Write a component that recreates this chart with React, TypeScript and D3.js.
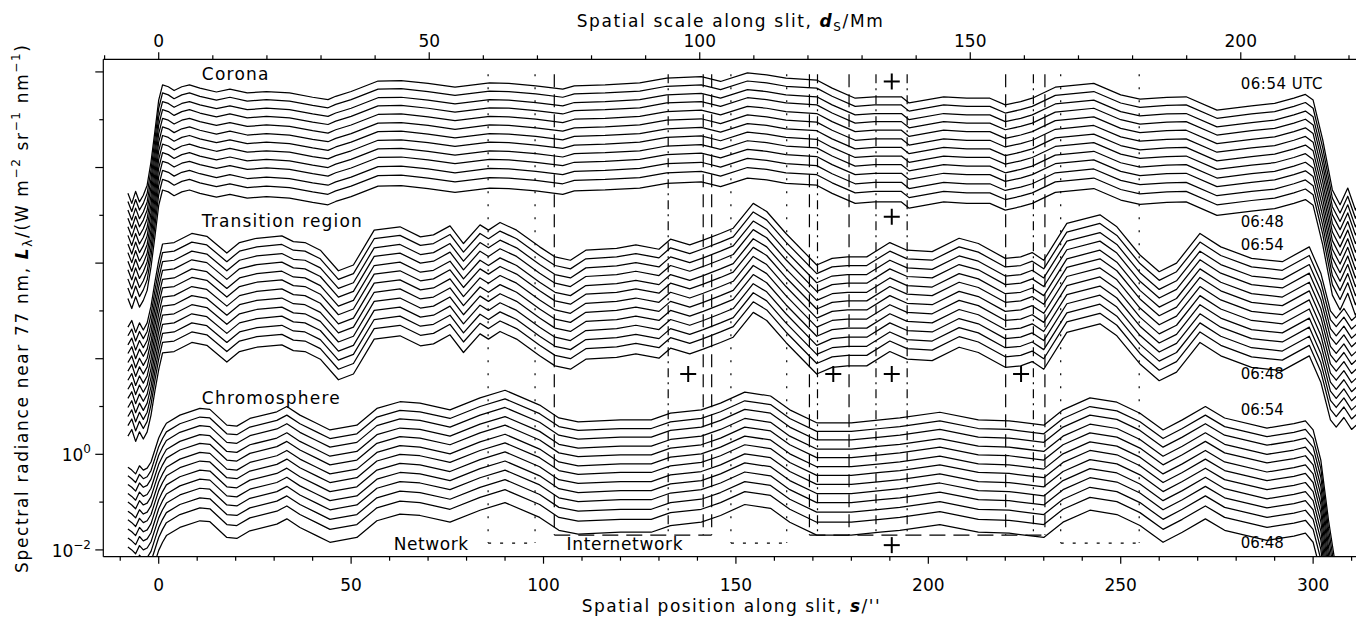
import React from 'react';
import * as d3 from 'd3';

// ---------- data (top = 06:54 UTC line of each group; log10 of spectral radiance) ----------
const coronaS = [-8,-7,-6,-5,-4,-3,-2,-1,0,1,2.5,4,6,8,10.7,15,18.5,23,28,34,40,44,46,50,57,63,70,77,86,91,98,105,108,116,125,132,141,146,153,158,163,171,175,181,186,193,195,204,210,216,220,224,227,233,243,250,255,262,267,275,284,290,295,298,300,302.5,305,307,309,311,313,315];
const coronaLog = [5.46,5.25,5.5,5.28,5.42,5.63,6.12,6.75,7.41,7.73,7.69,7.61,7.69,7.73,7.66,7.58,7.64,7.56,7.59,7.56,7.47,7.42,7.49,7.59,7.81,7.82,7.76,7.68,7.77,7.76,7.71,7.64,7.71,7.73,7.77,7.87,7.9,7.8,7.98,7.94,7.87,7.83,7.66,7.45,7.48,7.48,7.35,7.48,7.45,7.45,7.31,7.38,7.45,7.68,7.76,7.52,7.43,7.47,7.48,7.2,7.29,7.34,7.45,7.53,7.41,6.58,5.53,5.22,5.57,5.11,5.43,5.3];

const trS = [-8,-7,-6,-5,-4,-3,-2,-1,0,1,4,8.6,12.5,17.7,21,25.5,32,35,38,42,46.7,50.6,56,62.7,68,71.4,75.7,79.2,83.5,85.7,88.7,93,99,103,107,111,119,124,130,133,138,141.5,146,149.3,154.5,158,163,171,175,179,184,190,194.5,201,208,213,220,224,227,230,236,244.6,249,255,260,264.5,270.6,276,284,292,299,302,304.5,306,308,310,312,314];
const trLog = [2.66,2.8,2.55,2.75,2.6,2.75,3.1,3.6,4.05,4.4,4.43,4.62,4.56,4.21,4.43,4.52,4.57,4.45,4.43,4.27,3.84,3.96,4.69,4.76,4.55,4.59,4.78,4.41,4.8,4.69,4.85,4.69,4.34,4.13,4.06,4.27,4.31,4.38,4.29,4.5,4.38,4.48,4.62,4.73,5.25,5.08,4.62,3.96,4.1,4.13,4.13,4.43,4.27,4.24,4.52,4.41,4.1,4.13,4.22,4.06,4.83,5.01,4.76,4.17,3.82,4.0,4.62,4.34,4.1,4.03,4.34,3.79,3.0,2.85,3.05,2.8,2.95,2.85];

const chS = [-8,-7,-6,-5,-4,-3,-2,-1,0,1,2,5.5,10.7,13.3,17.7,20.3,23.7,30.7,33.3,36.7,41,44.5,51.5,56.7,62.7,67.9,75.7,83.5,90,99,104,109,120,128,133,141,146,152.3,159,164,171,180,187.5,192.6,203,213,221,230,235,242,249,255,261,266,272,277,288,295,298,300,302,304,306,310,314];
const chLog = [-0.27,-0.33,-0.41,-0.24,-0.33,-0.29,-0.16,0.09,0.34,0.51,0.65,0.82,0.96,0.94,0.61,0.59,0.75,0.89,1.0,0.82,0.65,0.51,0.61,0.96,1.1,1.07,0.93,1.18,1.34,1.03,0.76,0.68,0.72,0.72,0.86,0.93,1.07,1.3,1.22,0.93,0.66,0.66,0.72,0.76,0.88,0.72,0.7,0.61,0.93,1.18,1.09,0.86,0.51,0.72,1.0,0.76,0.55,0.64,0.7,0.51,-0.12,-1.38,-2.42,-2.84,-2.9];

// offsets (decades) of the 13 exposures 06:54 ... 06:48 below the top one
const coronaOffsets = [0,0.17,0.35,0.52,0.7,0.88,1.06,1.24,1.42,1.6,1.79,1.98,2.2];
const trOffsets = [0,0.18,0.37,0.55,0.74,0.92,1.11,1.3,1.49,1.68,1.87,2.06,2.28];
const chOffsets = [0,0.18,0.36,0.55,0.73,0.92,1.1,1.29,1.48,1.67,1.87,2.08,2.35];

// region markers along the slit (arcsec)
const dottedMarks = [85.6,97.8,148.7,163.2,234.4,254.8];
const dashedMarks = [102.8,141.5,143.7,169.1,179.4,220.1,230.3];
const dashDotMarks = [132.4,171.2,186.4,194.5,227.3];
const dottedBoxes: [number, number][] = [[85.6,97.8],[148.7,163.2],[234.4,254.8]];
const dashedBoxes: [number, number][] = [[102.8,143.7],[169.1,230.3]];
const markTopLog = 7.95;
const dottedBottomLog = -1.856;
const dashedBottomLog = -1.69;

// plus markers (s, log10 L)
const plusS = [190.5,190.5,137.6,175.3,190.5,224.1,190.5];
const plusLog = [7.8,4.97,1.68,1.68,1.68,1.68,-1.9];

const bottomMajor = [0,50,100,150,200,250,300];
const topMajor = [0,50,100,150,200];
const leftLabeled = [0,-2];
const arcsecToMm = 50/70.3;

const FONT = "'DejaVu Sans', 'Liberation Sans', sans-serif";

export default function App() {
  const W = 1356, H = 619;
  const L = 103.3, R = 1372, T = 59.3, B = 556.7;
  const x = d3.scaleLinear().domain([-14.4, 315.3]).range([L, R]);
  const xMm = d3.scaleLinear().domain([-14.4 * arcsecToMm, 315.3 * arcsecToMm]).range([L, R]);
  const y = d3.scaleLog().domain([Math.pow(10, -2.142), Math.pow(10, 8.264)]).range([B, T]);
  const ly = (v: number) => y(Math.pow(10, v));

  const line = d3.line<[number, number]>().x(d => x(d[0])).y(d => ly(d[1]));

  const groups = [
    { s: coronaS, v: coronaLog, off: coronaOffsets },
    { s: trS, v: trLog, off: trOffsets },
    { s: chS, v: chLog, off: chOffsets },
  ];

  const bottomMinor = d3.range(-10, 320, 10).filter(v => !bottomMajor.includes(v) && x(v) >= L && x(v) <= W);
  const topMinor = d3.range(-10, 240, 10).filter(v => !topMajor.includes(v) && xMm(v) >= L - 1 && xMm(v) <= W);
  const decades = d3.range(-2, 9, 1);

  const sw = 1.2;
  const tickFont = 17;

  return (
    <svg width={W} height={H} style={{ position: 'absolute', left: 0, top: 0, background: '#fff' }}
      fontFamily={FONT}>
      <defs>
        <clipPath id="plot">
          <rect x={L} y={T} width={R - L} height={B - T} />
        </clipPath>
      </defs>
      <rect x={0} y={0} width={W} height={H} fill="#fff" />

      {/* data lines */}
      <g clipPath="url(#plot)" fill="none" stroke="#000" strokeWidth={1.25} strokeLinejoin="round">
        {groups.map((g, gi) =>
          g.off.map((o, li) => {
            const pts: [number, number][] = g.s.map((si, i) => [si, g.v[i] - o]);
            return <path key={`${gi}-${li}`} d={line(pts) || ''} />;
          })
        )}
      </g>

      {/* region markers */}
      <g fill="none" stroke="#000" strokeWidth={1.2}>
        {dottedMarks.map((s, i) => (
          <line key={'dm' + i} x1={x(s)} x2={x(s)} y1={ly(markTopLog)} y2={ly(dottedBottomLog)} strokeDasharray="2,11" />
        ))}
        {dashedMarks.map((s, i) => (
          <line key={'da' + i} x1={x(s)} x2={x(s)} y1={ly(markTopLog)} y2={ly(dashedBottomLog)} strokeDasharray="13,7" />
        ))}
        {dashDotMarks.map((s, i) => (
          <line key={'dd' + i} x1={x(s)} x2={x(s)} y1={ly(markTopLog)} y2={ly(dashedBottomLog)} strokeDasharray="9,5,2,5" />
        ))}
        {dottedBoxes.map((b, i) => (
          <line key={'db' + i} x1={x(b[0])} x2={x(b[1])} y1={ly(dottedBottomLog)} y2={ly(dottedBottomLog)} strokeDasharray="3,9" />
        ))}
        {dashedBoxes.map((b, i) => (
          <line key={'dab' + i} x1={x(b[0])} x2={x(b[1])} y1={ly(dashedBottomLog)} y2={ly(dashedBottomLog)} strokeDasharray="16,8" />
        ))}
      </g>

      {/* plus markers */}
      <g stroke="#000" strokeWidth={2}>
        {plusS.map((s, i) => {
          const cx = x(s), cy = ly(plusLog[i]);
          return (
            <g key={'p' + i}>
              <line x1={cx - 8} x2={cx + 8} y1={cy} y2={cy} />
              <line x1={cx} x2={cx} y1={cy - 8} y2={cy + 8} />
            </g>
          );
        })}
      </g>

      {/* group labels */}
      <g fontSize={17} fill="#000">
        <text x={x(11.2)} y={ly(7.83)} textLength={66.7} lengthAdjust="spacing">Corona</text>
        <text x={x(11.2)} y={ly(4.76)} textLength={160} lengthAdjust="spacing">Transition region</text>
        <text x={x(11.2)} y={ly(1.05)} textLength={138} lengthAdjust="spacing">Chromosphere</text>
        <text x={x(61.1)} y={ly(-2.0)} textLength={74.3} lengthAdjust="spacing">Network</text>
        <text x={x(106)} y={ly(-2.0)} textLength={116} lengthAdjust="spacing">Internetwork</text>
      </g>
      <g fontSize={15} fill="#000">
        <text x={x(281.2)} y={ly(7.64)} textLength={81.7} lengthAdjust="spacing">06:54  UTC</text>
        <text x={x(281.2)} y={ly(4.75)} textLength={43} lengthAdjust="spacing">06:48</text>
        <text x={x(281.2)} y={ly(4.27)} textLength={43} lengthAdjust="spacing">06:54</text>
        <text x={x(281.2)} y={ly(1.58)} textLength={43} lengthAdjust="spacing">06:48</text>
        <text x={x(281.2)} y={ly(0.82)} textLength={43} lengthAdjust="spacing">06:54</text>
        <text x={x(281.2)} y={ly(-1.97)} textLength={43} lengthAdjust="spacing">06:48</text>
      </g>

      {/* axes */}
      <g stroke="#000" strokeWidth={sw} fill="none">
        <line x1={L} x2={W} y1={B} y2={B} />
        <line x1={L} x2={W} y1={T} y2={T} />
        <line x1={L} x2={L} y1={T} y2={B} />
        {bottomMajor.map(v => <line key={'bM' + v} x1={x(v)} x2={x(v)} y1={B} y2={B + 7} />)}
        {bottomMinor.map(v => <line key={'bm' + v} x1={x(v)} x2={x(v)} y1={B} y2={B + 4} />)}
        {topMajor.map(v => <line key={'tM' + v} x1={xMm(v)} x2={xMm(v)} y1={T} y2={T - 7} />)}
        {topMinor.map(v => <line key={'tm' + v} x1={xMm(v)} x2={xMm(v)} y1={T} y2={T - 4} />)}
        {decades.map(d => (
          <line key={'ld' + d} x1={L} x2={L - (d % 2 === 0 ? 8 : 4)} y1={ly(d)} y2={ly(d)} />
        ))}
      </g>

      {/* tick labels */}
      <g fontSize={tickFont} fill="#000" textAnchor="middle">
        {bottomMajor.map(v => <text key={'bl' + v} x={x(v)} y={590.7}>{v}</text>)}
        {topMajor.map(v => <text key={'tl' + v} x={xMm(v)} y={46.5}>{v}</text>)}
      </g>
      <g fill="#000" textAnchor="end">
        {leftLabeled.map(d => (
          <text key={'ll' + d} x={91} y={ly(d) + 7} fontSize={17}>
            10<tspan dy={-8} fontSize={12}>{d < 0 ? '\u2212' + Math.abs(d) : String(d)}</tspan>
          </text>
        ))}
      </g>

      {/* axis titles */}
      <text x={581.7} y={612} fontSize={17} fill="#000" textLength={298} lengthAdjust="spacing">
        Spatial position along slit, <tspan fontWeight="bold" fontStyle="italic">s</tspan>/''
      </text>
      <text x={576.7} y={26.5} fontSize={17} fill="#000" textLength={306} lengthAdjust="spacing">
        Spatial scale along slit, <tspan fontWeight="bold" fontStyle="italic">d</tspan>
        <tspan fontSize={12} dy={4}>S</tspan><tspan dy={-4}>/Mm</tspan>
      </text>
      <text transform="translate(28,309) rotate(-90)" textAnchor="middle" fontSize={17} fill="#000"
        textLength={528} lengthAdjust="spacing">
        Spectral radiance near 77 nm, <tspan fontWeight="bold" fontStyle="italic">L</tspan>
        <tspan fontSize={12} dy={4}>λ</tspan><tspan dy={-4}>/(W m</tspan>
        <tspan fontSize={12} dy={-8}>−2</tspan><tspan dy={8}> sr</tspan>
        <tspan fontSize={12} dy={-8}>−1</tspan><tspan dy={8}> nm</tspan>
        <tspan fontSize={12} dy={-8}>−1</tspan><tspan dy={8}>)</tspan>
      </text>
    </svg>
  );
}
